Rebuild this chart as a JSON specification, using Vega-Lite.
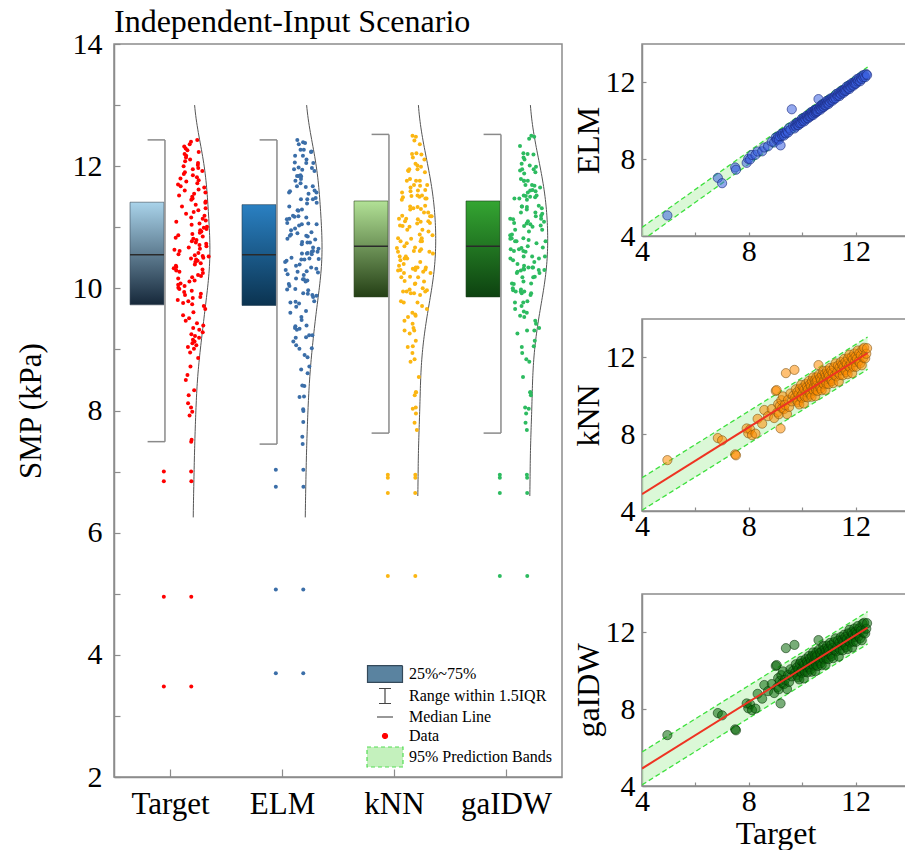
{
  "$schema": "https://vega.github.io/schema/vega-lite/v6.json",
  "padding": {"left": 14, "top": 5, "right": 0, "bottom": 0},
  "bounds": "flush",
  "spacing": 80,
  "config": {
    "font": "Liberation Serif",
    "view": {"stroke": "#8c8c8c", "strokeWidth": 1.5},
    "axis": {"labelFont": "Liberation Serif", "titleFont": "Liberation Serif", "labelColor": "#000", "titleColor": "#000", "titleFontWeight": "normal", "domainColor": "#8c8c8c", "domainWidth": 1.5, "tickColor": "#8c8c8c", "tickWidth": 1.2, "grid": false, "labelFlush": false, "labelOverlap": false, "labelBound": false},
    "legend": {"labelFont": "Liberation Serif"}
  },
  "resolve": {
    "scale": {"color": "independent", "shape": "independent", "fill": "independent", "stroke": "independent", "strokeDash": "independent"},
    "legend": {"color": "independent", "shape": "independent", "fill": "independent", "stroke": "independent", "strokeDash": "independent"}
  },
  "datasets": {
    "boxes": [
      {"key": "t", "q1": 9.73, "med": 10.55, "q3": 11.41, "lo": 7.49, "hi": 12.43},
      {"key": "e", "q1": 9.72, "med": 10.55, "q3": 11.37, "lo": 7.45, "hi": 12.43},
      {"key": "k", "q1": 9.86, "med": 10.69, "q3": 11.43, "lo": 7.63, "hi": 12.52},
      {"key": "g", "q1": 9.86, "med": 10.69, "q3": 11.43, "lo": 7.63, "hi": 12.52}
    ],
    "bands": [
      {"m": "ELM", "x": 4, "lo": 3.77, "hi": 4.45, "fit": 4.11},
      {"m": "ELM", "x": 12.45, "lo": 12.16, "hi": 12.8, "fit": 12.48},
      {"m": "kNN", "x": 4, "lo": 4.04, "hi": 5.73, "fit": 4.88},
      {"m": "kNN", "x": 12.45, "lo": 11.38, "hi": 13.06, "fit": 12.23},
      {"m": "gaIDW", "x": 4, "lo": 4.06, "hi": 5.77, "fit": 4.91},
      {"m": "gaIDW", "x": 12.45, "lo": 11.4, "hi": 13.08, "fit": 12.25}
    ],
    "samples": [
      {"t":3.48,"e":3.70,"k":5.29,"g":5.29},{"t":4.95,"e":5.07,"k":6.65,"g":6.65},{"t":6.84,"e":7.03,"k":7.80,"g":7.80},{"t":7.00,"e":6.75,"k":7.68,"g":7.68},{"t":7.49,"e":7.57,"k":6.95,"g":6.95},
      {"t":7.52,"e":7.45,"k":6.90,"g":6.90},{"t":7.92,"e":7.81,"k":8.30,"g":8.30},{"t":7.98,"e":8.02,"k":8.05,"g":8.05},{"t":8.05,"e":7.99,"k":8.25,"g":8.25},{"t":8.12,"e":8.22,"k":7.95,"g":7.95},
      {"t":8.25,"e":8.23,"k":8.03,"g":8.03},{"t":8.33,"e":8.40,"k":8.80,"g":8.80},{"t":8.50,"e":8.41,"k":8.55,"g":8.55},{"t":8.58,"e":8.61,"k":9.26,"g":9.26},{"t":8.72,"e":8.67,"k":8.94,"g":8.94},
      {"t":8.86,"e":8.91,"k":9.31,"g":9.31},{"t":8.95,"e":8.87,"k":8.84,"g":8.84},{"t":9.01,"e":9.13,"k":10.25,"g":10.25},{"t":9.04,"e":9.01,"k":10.30,"g":10.30},{"t":9.07,"e":9.07,"k":9.14,"g":9.14},
      {"t":9.10,"e":9.19,"k":9.57,"g":9.62},{"t":9.13,"e":9.02,"k":9.04,"g":9.04},{"t":9.16,"e":9.20,"k":9.47,"g":9.47},{"t":9.19,"e":8.72,"k":8.30,"g":8.30},{"t":9.22,"e":9.32,"k":9.77,"g":9.77},
      {"t":9.25,"e":9.23,"k":9.35,"g":9.35},{"t":9.28,"e":9.35,"k":9.97,"g":9.97},{"t":9.32,"e":9.23,"k":9.31,"g":9.31},{"t":9.35,"e":9.38,"k":9.53,"g":9.53},{"t":9.39,"e":9.34,"k":11.18,"g":11.18},
      {"t":9.43,"e":9.48,"k":9.05,"g":9.05},{"t":9.47,"e":9.39,"k":9.79,"g":9.79},{"t":9.51,"e":9.63,"k":9.42,"g":9.42},{"t":9.56,"e":9.53,"k":10.12,"g":10.08},{"t":9.61,"e":10.60,"k":9.71,"g":9.71},
      {"t":9.66,"e":9.75,"k":10.00,"g":10.00},{"t":9.71,"e":9.60,"k":11.35,"g":11.35},{"t":9.74,"e":9.78,"k":9.92,"g":9.92},{"t":9.76,"e":9.70,"k":10.34,"g":10.34},{"t":9.79,"e":9.89,"k":9.77,"g":9.77},
      {"t":9.81,"e":9.79,"k":10.18,"g":10.18},{"t":9.84,"e":9.91,"k":9.66,"g":9.66},{"t":9.86,"e":9.77,"k":10.08,"g":10.08},{"t":9.89,"e":9.92,"k":9.55,"g":9.55},{"t":9.91,"e":9.86,"k":10.37,"g":10.37},
      {"t":9.94,"e":9.99,"k":9.95,"g":9.95},{"t":9.96,"e":9.88,"k":10.57,"g":10.52},{"t":9.99,"e":10.11,"k":9.89,"g":9.89},{"t":10.01,"e":9.98,"k":10.11,"g":10.11},{"t":10.04,"e":10.04,"k":10.43,"g":10.43},
      {"t":10.06,"e":10.15,"k":9.60,"g":9.60},{"t":10.08,"e":9.97,"k":10.32,"g":10.32},{"t":10.11,"e":10.15,"k":9.95,"g":9.95},{"t":10.13,"e":10.07,"k":10.61,"g":10.61},{"t":10.16,"e":10.26,"k":10.19,"g":10.19},
      {"t":10.18,"e":10.16,"k":10.46,"g":10.46},{"t":10.20,"e":10.27,"k":9.92,"g":9.92},{"t":10.22,"e":10.13,"k":10.34,"g":10.34},{"t":10.25,"e":10.28,"k":10.77,"g":10.77},{"t":10.27,"e":10.22,"k":10.18,"g":10.18},
      {"t":10.29,"e":10.34,"k":10.60,"g":10.64},{"t":10.31,"e":10.23,"k":10.07,"g":10.07},{"t":10.33,"e":10.45,"k":10.49,"g":10.49},{"t":10.35,"e":10.32,"k":9.95,"g":9.95},{"t":10.37,"e":10.37,"k":10.77,"g":10.77},
      {"t":10.39,"e":10.48,"k":10.34,"g":10.34},{"t":10.41,"e":10.30,"k":10.96,"g":10.96},{"t":10.43,"e":10.47,"k":10.27,"g":10.27},{"t":10.45,"e":10.39,"k":10.49,"g":10.49},{"t":10.47,"e":10.57,"k":10.81,"g":10.81},
      {"t":10.49,"e":10.47,"k":9.98,"g":9.98},{"t":10.50,"e":10.57,"k":10.69,"g":10.69},{"t":10.52,"e":10.43,"k":10.30,"g":10.30},{"t":10.53,"e":10.56,"k":10.96,"g":10.96},{"t":10.54,"e":10.49,"k":10.52,"g":10.52},
      {"t":10.56,"e":10.61,"k":10.79,"g":10.79},{"t":10.58,"e":10.50,"k":10.25,"g":10.25},{"t":10.61,"e":11.13,"k":11.60,"g":11.60},{"t":10.63,"e":10.60,"k":11.10,"g":11.10},{"t":10.65,"e":10.65,"k":10.52,"g":10.52},
      {"t":10.67,"e":10.76,"k":10.93,"g":10.93},{"t":10.69,"e":10.58,"k":10.40,"g":10.40},{"t":10.71,"e":10.75,"k":10.82,"g":10.82},{"t":10.73,"e":10.67,"k":10.29,"g":10.29},{"t":10.75,"e":10.85,"k":11.10,"g":11.05},
      {"t":10.77,"e":10.75,"k":10.67,"g":10.67},{"t":10.79,"e":10.86,"k":11.29,"g":11.29},{"t":10.81,"e":10.72,"k":10.60,"g":10.60},{"t":10.83,"e":10.86,"k":10.82,"g":10.82},{"t":10.85,"e":10.80,"k":11.14,"g":11.14},
      {"t":10.87,"e":10.92,"k":10.31,"g":10.31},{"t":10.89,"e":10.81,"k":11.02,"g":11.02},{"t":10.91,"e":11.03,"k":10.64,"g":10.64},{"t":10.93,"e":10.90,"k":11.31,"g":11.31},{"t":10.95,"e":10.95,"k":10.88,"g":10.88},
      {"t":10.97,"e":11.06,"k":11.14,"g":11.14},{"t":10.99,"e":10.88,"k":10.61,"g":10.61},{"t":11.01,"e":11.05,"k":11.03,"g":11.03},{"t":11.04,"e":10.98,"k":11.45,"g":11.45},{"t":11.06,"e":11.16,"k":10.87,"g":10.87},
      {"t":11.09,"e":11.07,"k":11.30,"g":11.34},{"t":11.11,"e":11.18,"k":10.77,"g":10.77},{"t":11.14,"e":11.05,"k":11.19,"g":11.19},{"t":11.16,"e":11.19,"k":10.66,"g":10.66},{"t":11.19,"e":11.14,"k":11.49,"g":11.49},
      {"t":11.22,"e":11.27,"k":11.06,"g":11.06},{"t":11.25,"e":11.17,"k":11.69,"g":11.69},{"t":11.28,"e":11.40,"k":11.01,"g":11.01},{"t":11.31,"e":11.28,"k":11.24,"g":11.24},{"t":11.34,"e":11.34,"k":11.57,"g":11.57},
      {"t":11.37,"e":11.46,"k":10.74,"g":10.74},{"t":11.40,"e":11.29,"k":11.47,"g":11.47},{"t":11.42,"e":11.46,"k":11.09,"g":11.09},{"t":11.45,"e":11.39,"k":11.76,"g":11.76},{"t":11.47,"e":11.57,"k":11.33,"g":11.33},
      {"t":11.50,"e":11.48,"k":11.61,"g":11.61},{"t":11.52,"e":11.59,"k":11.07,"g":11.07},{"t":11.55,"e":11.46,"k":11.50,"g":11.50},{"t":11.57,"e":11.60,"k":11.92,"g":11.88},{"t":11.60,"e":11.55,"k":11.34,"g":11.34},
      {"t":11.62,"e":11.67,"k":11.76,"g":11.76},{"t":11.65,"e":11.57,"k":11.24,"g":11.24},{"t":11.67,"e":11.79,"k":11.65,"g":11.65},{"t":11.70,"e":11.67,"k":11.13,"g":11.13},{"t":11.72,"e":11.72,"k":11.95,"g":11.95},
      {"t":11.75,"e":11.84,"k":11.52,"g":11.52},{"t":11.77,"e":11.66,"k":12.14,"g":12.14},{"t":11.80,"e":11.84,"k":11.47,"g":11.47},{"t":11.82,"e":11.76,"k":11.68,"g":11.68},{"t":11.85,"e":11.95,"k":12.01,"g":12.01},
      {"t":11.87,"e":11.85,"k":11.18,"g":11.22},{"t":11.90,"e":11.97,"k":11.90,"g":11.90},{"t":11.92,"e":11.83,"k":11.52,"g":11.52},{"t":11.95,"e":11.98,"k":12.20,"g":12.20},{"t":11.97,"e":11.92,"k":11.76,"g":11.76},
      {"t":12.00,"e":12.05,"k":12.04,"g":12.04},{"t":12.02,"e":11.94,"k":11.51,"g":11.51},{"t":12.05,"e":12.17,"k":11.93,"g":11.93},{"t":12.08,"e":12.05,"k":12.36,"g":12.33},{"t":12.11,"e":12.11,"k":11.79,"g":11.79},
      {"t":12.14,"e":12.23,"k":12.21,"g":12.21},{"t":12.17,"e":12.06,"k":11.69,"g":11.69},{"t":12.20,"e":12.24,"k":12.11,"g":12.11},{"t":12.23,"e":12.17,"k":11.59,"g":11.59},{"t":12.26,"e":12.36,"k":12.42,"g":12.45},
      {"t":12.29,"e":12.27,"k":11.99,"g":11.99},{"t":12.32,"e":12.39,"k":12.50,"g":12.50},{"t":12.36,"e":12.27,"k":11.95,"g":11.95},{"t":12.40,"e":12.43,"k":12.19,"g":12.19},{"t":12.43,"e":12.38,"k":12.48,"g":12.48}
    ]
  },
  "hconcat": [
    {
      "width": 448,
      "height": 733,
      "title": {"text": "Independent-Input Scenario", "anchor": "start", "frame": "group", "fontSize": 32, "font": "Liberation Serif", "fontWeight": "normal", "color": "#000", "offset": -10},
      "layer": [
        {
          "data": {"name": "boxes"},
          "transform": [{"filter": "datum.key == 't'"}, {"calculate": "indexof(['t','e','k','g'], datum.key)", "as": "idx"}, {"calculate": "datum.idx - 0.357", "as": "bx1"}, {"calculate": "datum.idx - 0.054", "as": "bx2"}],
          "mark": {"type": "rect", "fill": {"gradient": "linear", "x1": 0, "y1": 0, "x2": 0, "y2": 1, "stops": [{"offset": 0, "color": "#a9d3ea"}, {"offset": 1, "color": "#16283a"}]}, "stroke": "#3a4a58", "strokeWidth": 0.6},
          "encoding": {
            "x": {"field": "bx1", "type": "quantitative", "scale": {"domain": [-0.5, 3.5]}, "axis": {"title": null, "values": [0, 1, 2, 3], "labelExpr": "['Target','ELM','kNN','gaIDW'][datum.value]", "tickSize": -8, "labelPadding": 20, "labelFontSize": 31}},
            "x2": {"field": "bx2"},
            "y": {"field": "q1", "type": "quantitative", "scale": {"domain": [2, 14]}, "axis": {"title": "SMP (kPa)", "format": "d", "values": [2,3,4,5,6,7,8,9,10,11,12,13,14], "labelExpr": "datum.value % 2 == 0 ? datum.label : ''", "tickSize": -6, "labelPadding": 18, "labelFontSize": 30, "titleFontSize": 31, "titlePadding": 25}},
            "y2": {"field": "q3"}
          }
        },
        {
          "data": {"name": "boxes"},
          "transform": [{"filter": "datum.key == 'e'"}, {"calculate": "indexof(['t','e','k','g'], datum.key)", "as": "idx"}, {"calculate": "datum.idx - 0.357", "as": "bx1"}, {"calculate": "datum.idx - 0.054", "as": "bx2"}],
          "mark": {"type": "rect", "fill": {"gradient": "linear", "x1": 0, "y1": 0, "x2": 0, "y2": 1, "stops": [{"offset": 0, "color": "#2a80c2"}, {"offset": 1, "color": "#0b3350"}]}, "stroke": "#1e3a50", "strokeWidth": 0.6},
          "encoding": {"x": {"field": "bx1", "type": "quantitative", "scale": {"domain": [-0.5, 3.5]}}, "x2": {"field": "bx2"}, "y": {"field": "q1", "type": "quantitative", "scale": {"domain": [2, 14]}}, "y2": {"field": "q3"}}
        },
        {
          "data": {"name": "boxes"},
          "transform": [{"filter": "datum.key == 'k'"}, {"calculate": "indexof(['t','e','k','g'], datum.key)", "as": "idx"}, {"calculate": "datum.idx - 0.357", "as": "bx1"}, {"calculate": "datum.idx - 0.054", "as": "bx2"}],
          "mark": {"type": "rect", "fill": {"gradient": "linear", "x1": 0, "y1": 0, "x2": 0, "y2": 1, "stops": [{"offset": 0, "color": "#b2e196"}, {"offset": 1, "color": "#243f15"}]}, "stroke": "#2d4420", "strokeWidth": 0.6},
          "encoding": {"x": {"field": "bx1", "type": "quantitative", "scale": {"domain": [-0.5, 3.5]}}, "x2": {"field": "bx2"}, "y": {"field": "q1", "type": "quantitative", "scale": {"domain": [2, 14]}}, "y2": {"field": "q3"}}
        },
        {
          "data": {"name": "boxes"},
          "transform": [{"filter": "datum.key == 'g'"}, {"calculate": "indexof(['t','e','k','g'], datum.key)", "as": "idx"}, {"calculate": "datum.idx - 0.357", "as": "bx1"}, {"calculate": "datum.idx - 0.054", "as": "bx2"}],
          "mark": {"type": "rect", "fill": {"gradient": "linear", "x1": 0, "y1": 0, "x2": 0, "y2": 1, "stops": [{"offset": 0, "color": "#34a532"}, {"offset": 1, "color": "#0d4210"}]}, "stroke": "#1a3a1a", "strokeWidth": 0.6},
          "encoding": {"x": {"field": "bx1", "type": "quantitative", "scale": {"domain": [-0.5, 3.5]}}, "x2": {"field": "bx2"}, "y": {"field": "q1", "type": "quantitative", "scale": {"domain": [2, 14]}}, "y2": {"field": "q3"}}
        },
        {
          "data": {"name": "boxes"},
          "transform": [{"calculate": "indexof(['t','e','k','g'], datum.key)", "as": "idx"}, {"calculate": "datum.idx - 0.357", "as": "bx1"}, {"calculate": "datum.idx - 0.054", "as": "bx2"}],
          "mark": {"type": "rule", "color": "#2a2a2a", "strokeWidth": 1.4},
          "encoding": {"x": {"field": "bx1", "type": "quantitative", "scale": {"domain": [-0.5, 3.5]}}, "x2": {"field": "bx2"}, "y": {"field": "med", "type": "quantitative", "scale": {"domain": [2, 14]}}}
        },
        {
          "data": {"name": "boxes"},
          "transform": [{"calculate": "indexof(['t','e','k','g'], datum.key)", "as": "idx"}, {"calculate": "datum.idx - 0.045", "as": "wx"}],
          "mark": {"type": "rule", "color": "#8a8a8a", "strokeWidth": 1.5},
          "encoding": {"x": {"field": "wx", "type": "quantitative", "scale": {"domain": [-0.5, 3.5]}}, "y": {"field": "lo", "type": "quantitative", "scale": {"domain": [2, 14]}}, "y2": {"field": "hi"}}
        },
        {
          "data": {"name": "boxes"},
          "transform": [{"fold": ["lo", "hi"], "as": ["which", "yy"]}, {"calculate": "indexof(['t','e','k','g'], datum.key)", "as": "idx"}, {"calculate": "datum.idx - 0.045", "as": "wx"}, {"calculate": "datum.idx - 0.2", "as": "cx"}],
          "mark": {"type": "rule", "color": "#8a8a8a", "strokeWidth": 1.5},
          "encoding": {"x": {"field": "cx", "type": "quantitative", "scale": {"domain": [-0.5, 3.5]}}, "x2": {"field": "wx"}, "y": {"field": "yy", "type": "quantitative", "scale": {"domain": [2, 14]}}}
        },
        {
          "data": {"name": "samples"},
          "transform": [{"fold": ["t", "e"], "as": ["key", "value"]}, {"calculate": "indexof(['t','e','k','g'], datum.key)", "as": "idx"}, {"density": "value", "groupby": ["key", "idx"], "extent": [6.25, 13], "steps": 120, "bandwidth": 0.5}, {"calculate": "datum.idx + 0.205 + datum.density * 0.5", "as": "vx"}],
          "mark": {"type": "line", "color": "#555555", "strokeWidth": 1},
          "encoding": {"x": {"field": "vx", "type": "quantitative", "scale": {"domain": [-0.5, 3.5]}}, "y": {"field": "value", "type": "quantitative", "scale": {"domain": [2, 14]}}, "detail": {"field": "key"}, "order": {"field": "value", "type": "quantitative"}}
        },
        {
          "data": {"name": "samples"},
          "transform": [{"fold": ["k", "g"], "as": ["key", "value"]}, {"calculate": "indexof(['t','e','k','g'], datum.key)", "as": "idx"}, {"density": "value", "groupby": ["key", "idx"], "extent": [6.6, 13], "steps": 120, "bandwidth": 0.5}, {"calculate": "datum.idx + 0.205 + datum.density * 0.5", "as": "vx"}],
          "mark": {"type": "line", "color": "#555555", "strokeWidth": 1},
          "encoding": {"x": {"field": "vx", "type": "quantitative", "scale": {"domain": [-0.5, 3.5]}}, "y": {"field": "value", "type": "quantitative", "scale": {"domain": [2, 14]}}, "detail": {"field": "key"}, "order": {"field": "value", "type": "quantitative"}}
        },
        {
          "data": {"name": "samples"},
          "transform": [
            {"window": [{"op": "row_number", "as": "id"}]},
            {"fold": ["t", "e", "k", "g"], "as": ["key", "value"]},
            {"calculate": "indexof(['t','e','k','g'], datum.key)", "as": "idx"},
            {"calculate": "abs(sin(datum.id * 12.9898 + datum.idx * 78.233) * 43758.5453) % 1", "as": "u"},
            {"calculate": "0.165 * exp(-pow((datum.value - 10.6) / 1.35, 2) / 2)", "as": "amp"},
            {"calculate": "datum.idx + 0.19 + (2 * datum.u - 1) * datum.amp", "as": "px"}
          ],
          "mark": {"type": "circle", "size": 16, "opacity": 1},
          "encoding": {
            "x": {"field": "px", "type": "quantitative", "scale": {"domain": [-0.5, 3.5]}},
            "y": {"field": "value", "type": "quantitative", "scale": {"domain": [2, 14]}},
            "color": {"field": "key", "type": "nominal", "scale": {"domain": ["t", "e", "k", "g"], "range": ["#ff0000", "#3b6ea8", "#fbb612", "#2dbb60"]}, "legend": null}
          }
        },
        {
          "data": {"name": "samples"},
          "transform": [
            {"fold": ["t", "e", "k", "g"], "as": ["key", "value"]},
            {"lookup": "key", "from": {"data": {"name": "boxes"}, "key": "key", "fields": ["lo", "hi"]}},
            {"filter": "datum.value < datum.lo || datum.value > datum.hi"},
            {"calculate": "indexof(['t','e','k','g'], datum.key) - 0.055", "as": "ox"}
          ],
          "mark": {"type": "circle", "size": 16, "opacity": 1},
          "encoding": {
            "x": {"field": "ox", "type": "quantitative", "scale": {"domain": [-0.5, 3.5]}},
            "y": {"field": "value", "type": "quantitative", "scale": {"domain": [2, 14]}},
            "color": {"field": "key", "type": "nominal", "scale": {"domain": ["t", "e", "k", "g"], "range": ["#ff0000", "#3b6ea8", "#fbb612", "#2dbb60"]}, "legend": null}
          }
        },
        {
          "data": {"values": []},
          "mark": {"type": "point", "filled": true, "opacity": 1},
          "encoding": {
            "shape": {"field": "item", "type": "nominal", "scale": {"domain": ["25%~75%", "Range within 1.5IQR", "Median Line", "Data", "95% Prediction Bands"], "range": ["M-1.75,-0.83H1.75V0.83H-1.75Z", "M-0.6,-0.75H0.6M0,-0.75V0.75M-0.6,0.75H0.6", "M-0.8,0H0.8", "M-0.25,0A0.25,0.25,0,1,1,0.25,0A0.25,0.25,0,1,1,-0.25,0Z", "M-1.8,-1H1.8V1H-1.8Z"]}, "legend": {"title": null, "orient": "none", "legendX": 260, "legendY": 619, "symbolSize": 400, "labelFontSize": 16, "labelColor": "#000", "labelOffset": 13, "rowPadding": 0, "padding": 0, "symbolStrokeWidth": 1.2, "labelLimit": 300}},
            "fill": {"field": "item", "type": "nominal", "scale": {"domain": ["25%~75%", "Range within 1.5IQR", "Median Line", "Data", "95% Prediction Bands"], "range": ["#5a83a0", "transparent", "transparent", "#ff0000", "#c4f1bd"]}},
            "stroke": {"field": "item", "type": "nominal", "scale": {"domain": ["25%~75%", "Range within 1.5IQR", "Median Line", "Data", "95% Prediction Bands"], "range": ["#34495a", "#444444", "#333333", "#ff0000", "#55dd55"]}},
            "strokeDash": {"field": "item", "type": "nominal", "scale": {"domain": ["25%~75%", "Range within 1.5IQR", "Median Line", "Data", "95% Prediction Bands"], "range": [[1, 0], [1, 0], [1, 0], [1, 0], [4, 3]]}}
          }
        }
      ]
    },
    {
      "vconcat": [
        {
          "width": 267, "height": 192,
          "layer": [
            {"data": {"name": "bands"}, "transform": [{"filter": "datum.m == 'ELM'"}], "mark": {"type": "area", "color": "#b8f2b0", "opacity": 0.5, "clip": true},
             "encoding": {"x": {"field": "x", "type": "quantitative", "scale": {"domain": [4, 14]}, "axis": {"title": null, "values": [4, 6, 8, 10, 12, 14], "labelExpr": "datum.value % 4 == 0 ? datum.label : ''", "tickSize": -4, "labelPadding": 4, "labelFontSize": 30}}, "y": {"field": "lo", "type": "quantitative", "scale": {"domain": [4, 14]}, "axis": {"title": "ELM", "values": [4, 6, 8, 10, 12, 14], "labelExpr": "datum.value % 4 == 0 ? datum.label : ''", "tickSize": -4, "labelPadding": 11, "labelFontSize": 30, "titleFontSize": 32, "titlePadding": 0}}, "y2": {"field": "hi"}}},
            {"data": {"name": "bands"}, "transform": [{"filter": "datum.m == 'ELM'"}, {"fold": ["lo", "hi"], "as": ["which", "yy"]}], "mark": {"type": "line", "color": "#3ee03e", "strokeWidth": 1.3, "strokeDash": [5, 3], "clip": true},
             "encoding": {"x": {"field": "x", "type": "quantitative", "scale": {"domain": [4, 14]}}, "y": {"field": "yy", "type": "quantitative", "scale": {"domain": [4, 14]}}, "detail": {"field": "which"}}},
            {"data": {"name": "samples"}, "mark": {"type": "circle", "size": 85, "fill": "#3a60e0", "fillOpacity": 0.55, "stroke": "#1a2a80", "strokeWidth": 0.8, "strokeOpacity": 0.8, "clip": true},
             "encoding": {"x": {"field": "t", "type": "quantitative", "scale": {"domain": [4, 14]}}, "y": {"field": "e", "type": "quantitative", "scale": {"domain": [4, 14]}}}}
          ]
        },
        {
          "width": 267, "height": 192,
          "layer": [
            {"data": {"name": "bands"}, "transform": [{"filter": "datum.m == 'kNN'"}], "mark": {"type": "area", "color": "#b8f2b0", "opacity": 0.5, "clip": true},
             "encoding": {"x": {"field": "x", "type": "quantitative", "scale": {"domain": [4, 14]}, "axis": {"title": null, "values": [4, 6, 8, 10, 12, 14], "labelExpr": "datum.value % 4 == 0 ? datum.label : ''", "tickSize": -4, "labelPadding": 4, "labelFontSize": 30}}, "y": {"field": "lo", "type": "quantitative", "scale": {"domain": [4, 14]}, "axis": {"title": "kNN", "values": [4, 6, 8, 10, 12, 14], "labelExpr": "datum.value % 4 == 0 ? datum.label : ''", "tickSize": -4, "labelPadding": 11, "labelFontSize": 30, "titleFontSize": 32, "titlePadding": 0}}, "y2": {"field": "hi"}}},
            {"data": {"name": "bands"}, "transform": [{"filter": "datum.m == 'kNN'"}, {"fold": ["lo", "hi"], "as": ["which", "yy"]}], "mark": {"type": "line", "color": "#3ee03e", "strokeWidth": 1.3, "strokeDash": [5, 3], "clip": true},
             "encoding": {"x": {"field": "x", "type": "quantitative", "scale": {"domain": [4, 14]}}, "y": {"field": "yy", "type": "quantitative", "scale": {"domain": [4, 14]}}, "detail": {"field": "which"}}},
            {"data": {"name": "samples"}, "mark": {"type": "circle", "size": 85, "fill": "#ff8c00", "fillOpacity": 0.55, "stroke": "#7a5010", "strokeWidth": 0.8, "strokeOpacity": 0.7, "clip": true},
             "encoding": {"x": {"field": "t", "type": "quantitative", "scale": {"domain": [4, 14]}}, "y": {"field": "k", "type": "quantitative", "scale": {"domain": [4, 14]}}}},
            {"data": {"name": "bands"}, "transform": [{"filter": "datum.m == 'kNN'"}], "mark": {"type": "line", "color": "#ee3322", "strokeWidth": 2, "clip": true},
             "encoding": {"x": {"field": "x", "type": "quantitative", "scale": {"domain": [4, 14]}}, "y": {"field": "fit", "type": "quantitative", "scale": {"domain": [4, 14]}}}}
          ]
        },
        {
          "width": 267, "height": 192,
          "layer": [
            {"data": {"name": "bands"}, "transform": [{"filter": "datum.m == 'gaIDW'"}], "mark": {"type": "area", "color": "#b8f2b0", "opacity": 0.5, "clip": true},
             "encoding": {"x": {"field": "x", "type": "quantitative", "scale": {"domain": [4, 14]}, "axis": {"title": "Target", "values": [4, 6, 8, 10, 12, 14], "labelExpr": "datum.value % 4 == 0 ? datum.label : ''", "tickSize": -4, "labelPadding": 4, "labelFontSize": 30, "titleFontSize": 32, "titlePadding": 2}}, "y": {"field": "lo", "type": "quantitative", "scale": {"domain": [4, 14]}, "axis": {"title": "gaIDW", "values": [4, 6, 8, 10, 12, 14], "labelExpr": "datum.value % 4 == 0 ? datum.label : ''", "tickSize": -4, "labelPadding": 11, "labelFontSize": 30, "titleFontSize": 32, "titlePadding": 0}}, "y2": {"field": "hi"}}},
            {"data": {"name": "bands"}, "transform": [{"filter": "datum.m == 'gaIDW'"}, {"fold": ["lo", "hi"], "as": ["which", "yy"]}], "mark": {"type": "line", "color": "#3ee03e", "strokeWidth": 1.3, "strokeDash": [5, 3], "clip": true},
             "encoding": {"x": {"field": "x", "type": "quantitative", "scale": {"domain": [4, 14]}}, "y": {"field": "yy", "type": "quantitative", "scale": {"domain": [4, 14]}}, "detail": {"field": "which"}}},
            {"data": {"name": "samples"}, "mark": {"type": "circle", "size": 85, "fill": "#0a6a0a", "fillOpacity": 0.55, "stroke": "#053005", "strokeWidth": 0.8, "strokeOpacity": 0.7, "clip": true},
             "encoding": {"x": {"field": "t", "type": "quantitative", "scale": {"domain": [4, 14]}}, "y": {"field": "g", "type": "quantitative", "scale": {"domain": [4, 14]}}}},
            {"data": {"name": "bands"}, "transform": [{"filter": "datum.m == 'gaIDW'"}], "mark": {"type": "line", "color": "#ee3322", "strokeWidth": 2, "clip": true},
             "encoding": {"x": {"field": "x", "type": "quantitative", "scale": {"domain": [4, 14]}}, "y": {"field": "fit", "type": "quantitative", "scale": {"domain": [4, 14]}}}}
          ]
        }
      ],
      "spacing": 83,
      "bounds": "flush"
    }
  ]
}
